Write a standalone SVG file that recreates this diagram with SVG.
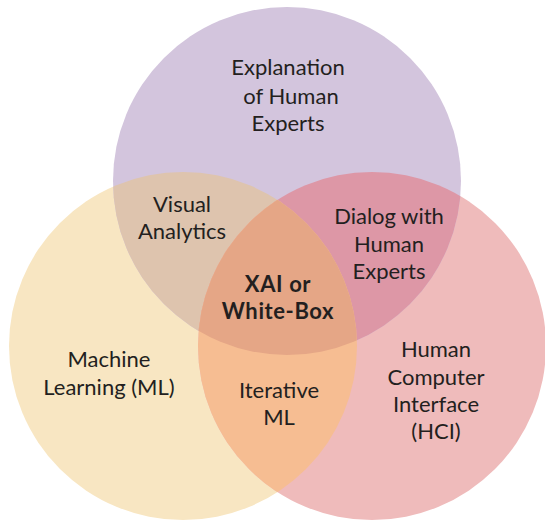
<svg xmlns="http://www.w3.org/2000/svg" width="545" height="521" viewBox="0 0 545 521">
<style>
text{font-family:Lato,"Open Sans","DejaVu Sans",sans-serif;font-size:22px;fill:#231f20;text-anchor:middle}
.b{font-weight:bold;letter-spacing:0.6px}
</style>
<defs>
<clipPath id="cY"><circle cx="183" cy="346" r="174"/></clipPath>
<clipPath id="cK"><circle cx="372" cy="346" r="174"/></clipPath>
<clipPath id="cP"><circle cx="287" cy="181" r="174"/></clipPath>
</defs>
<rect width="545" height="521" fill="#fff"/>
<g id="sets">
<circle id="ml" cx="183" cy="346" r="174" fill="#f8e6c2"/>
<circle id="hci" cx="372" cy="346" r="174" fill="#efbbbb"/>
<circle id="experts" cx="287" cy="181" r="174" fill="#d3c5dd"/>
<circle id="visual" cx="287" cy="181" r="174" fill="#dec4ae" clip-path="url(#cY)"/>
<circle id="dialog" cx="287" cy="181" r="174" fill="#dd97a6" clip-path="url(#cK)"/>
<circle id="iterative" cx="183" cy="346" r="174" fill="#f6bd92" clip-path="url(#cK)"/>
<g id="xai" clip-path="url(#cY)"><circle cx="287" cy="181" r="174" fill="#e5a686" clip-path="url(#cK)"/></g>
</g>
<g id="labels">
<text x="288" y="75">Explanation</text>
<text x="291" y="104">of Human</text>
<text x="288" y="131">Experts</text>
<text x="182" y="212">Visual</text>
<text x="182" y="239">Analytics</text>
<text x="389" y="224">Dialog with</text>
<text x="389" y="252">Human</text>
<text x="389" y="279">Experts</text>
<text class="b" x="278" y="292">XAI or</text>
<text class="b" x="278" y="319">White-Box</text>
<text x="109" y="367">Machine</text>
<text x="109" y="395">Learning (ML)</text>
<text x="279" y="398">Iterative</text>
<text x="279" y="425">ML</text>
<text x="436" y="357">Human</text>
<text x="436" y="385">Computer</text>
<text x="436" y="412">Interface</text>
<text x="436" y="439">(HCI)</text>
</g>
</svg>
